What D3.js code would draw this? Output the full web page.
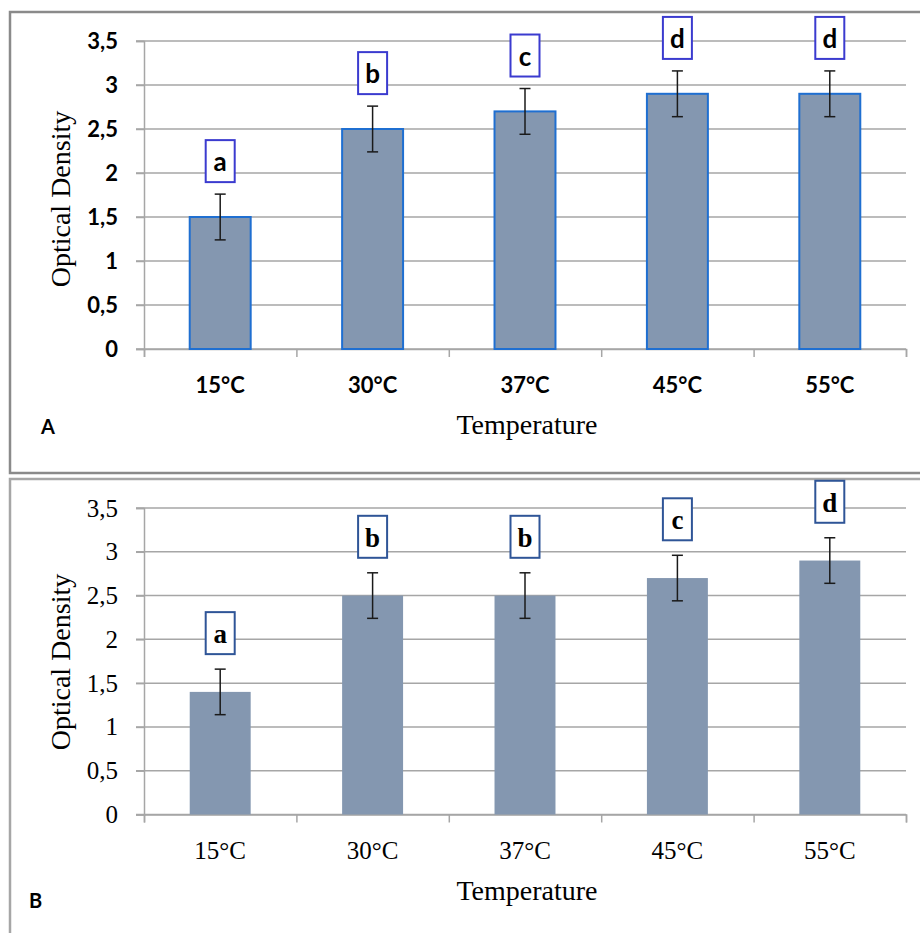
<!DOCTYPE html>
<html>
<head>
<meta charset="utf-8">
<script src="https://cdn.jsdelivr.net/npm/d3@7"></script>
<style>
  body { margin: 0; background: #fff; }
  svg { display: block; }
</style>
</head>
<body>
<svg id="chart" width="920" height="933"></svg>
<script>
var temps = ["15°C", "30°C", "37°C", "45°C", "55°C"];
var yTicks = [0, 0.5, 1, 1.5, 2, 2.5, 3, 3.5];
var yTickLabels = ["0", "0,5", "1", "1,5", "2", "2,5", "3", "3,5"];

var densityA = [1.5, 2.5, 2.7, 2.9, 2.9];
var errorA = [0.26, 0.26, 0.26, 0.26, 0.26];
var lettersA = ["a", "b", "c", "d", "d"];

var densityB = [1.4, 2.5, 2.5, 2.7, 2.9];
var errorB = [0.26, 0.26, 0.26, 0.26, 0.26];
var lettersB = ["a", "b", "b", "c", "d"];

var svg = d3.select("#chart");

var serif = "'Liberation Serif', 'DejaVu Serif', serif";
var sans = "Lato, 'Open Sans', sans-serif";

var x = d3.scaleBand()
    .domain(temps)
    .range([144, 906])
    .paddingInner(0.6)
    .paddingOuter(0.3);

var xTicks = d3.scaleLinear().domain([0, temps.length]).range([144, 906]);

function drawPanel(p)
{
    var g = svg.append("g");

    // panel frame
    g.append("rect")
        .attr("x", 10).attr("y", p.frameTop)
        .attr("width", 940).attr("height", p.frameHeight)
        .attr("fill", "none")
        .attr("stroke", p.frameColor)
        .attr("stroke-width", 2.5);

    var y = d3.scaleLinear().domain([0, 3.5]).range(p.yRange);

    // gridlines
    g.append("g").selectAll("line")
        .data(yTicks)
        .enter().append("line")
        .attr("x1", 136).attr("x2", 906)
        .attr("y1", function(d) { return y(d); })
        .attr("y2", function(d) { return y(d); })
        .attr("stroke", "#a6a6a6")
        .attr("stroke-width", 1.5);

    // y axis
    var yAxis = g.append("g")
        .attr("transform", "translate(144,0)")
        .call(d3.axisLeft(y)
            .tickValues(yTicks)
            .tickSize(8)
            .tickPadding(18)
            .tickFormat(function(d, i) { return yTickLabels[i]; }));
    yAxis.select(".domain").attr("stroke", "#a6a6a6").attr("stroke-width", 1.5);
    yAxis.selectAll(".tick line").attr("stroke", "#a6a6a6").attr("stroke-width", 1.5);
    yAxis.selectAll(".tick text")
        .attr("fill", "#000")
        .style("font-family", p.tickFont)
        .style("font-weight", p.tickWeight)
        .style("font-size", p.tickSize + "px");

    // x axis tick marks at category boundaries
    var xAxisTicks = g.append("g")
        .attr("transform", "translate(0," + y(0) + ")")
        .call(d3.axisBottom(xTicks).ticks(temps.length).tickSize(8).tickFormat(""));
    xAxisTicks.select(".domain").attr("stroke", "#a6a6a6").attr("stroke-width", 1.5);
    xAxisTicks.selectAll(".tick line").attr("stroke", "#a6a6a6").attr("stroke-width", 1.5);

    // bars
    g.append("g").selectAll("rect")
        .data(p.values)
        .enter().append("rect")
        .attr("x", function(d, i) { return x(temps[i]); })
        .attr("y", function(d) { return y(d); })
        .attr("width", x.bandwidth())
        .attr("height", function(d) { return y(0) - y(d); })
        .attr("fill", "#8497b0")
        .attr("stroke", p.barStroke)
        .attr("stroke-width", p.barStroke === "none" ? 0 : 2);

    // error bars
    var err = g.append("g").selectAll("g")
        .data(p.values)
        .enter().append("g")
        .attr("stroke", "#1a1a1a")
        .attr("stroke-width", 1.5);
    err.append("line")
        .attr("x1", function(d, i) { return x(temps[i]) + x.bandwidth() / 2; })
        .attr("x2", function(d, i) { return x(temps[i]) + x.bandwidth() / 2; })
        .attr("y1", function(d, i) { return y(d + p.errors[i]); })
        .attr("y2", function(d, i) { return y(d - p.errors[i]); });
    [1, -1].forEach(function(s) {
        err.append("line")
            .attr("x1", function(d, i) { return x(temps[i]) + x.bandwidth() / 2 - 5.5; })
            .attr("x2", function(d, i) { return x(temps[i]) + x.bandwidth() / 2 + 5.5; })
            .attr("y1", function(d, i) { return y(d + s * p.errors[i]); })
            .attr("y2", function(d, i) { return y(d + s * p.errors[i]); });
    });

    // significance letters in boxes
    var lab = g.append("g").selectAll("g")
        .data(p.values)
        .enter().append("g")
        .attr("transform", function(d, i) {
            var cx = x(temps[i]) + x.bandwidth() / 2;
            var bottom = y(d + p.errors[i]) - p.letterGap;
            return "translate(" + cx + "," + bottom + ")";
        });
    lab.append("rect")
        .attr("x", -14.5).attr("y", -42)
        .attr("width", 29).attr("height", 42)
        .attr("fill", "#fff")
        .attr("stroke", p.boxColor)
        .attr("stroke-width", 2);
    lab.append("text")
        .attr("y", -11)
        .attr("text-anchor", "middle")
        .style("font-family", p.letterFont)
        .style("font-weight", "bold")
        .style("font-size", p.letterSize + "px")
        .text(function(d, i) { return p.letters[i]; });

    // category labels
    g.append("g").selectAll("text")
        .data(temps)
        .enter().append("text")
        .attr("x", function(d) { return x(d) + x.bandwidth() / 2; })
        .attr("y", p.catBaseline)
        .attr("text-anchor", "middle")
        .style("font-family", p.tickFont)
        .style("font-weight", p.tickWeight)
        .style("font-size", p.catSize + "px")
        .text(function(d) { return d; });

    // axis titles
    g.append("text")
        .attr("x", 527).attr("y", p.titleBaseline)
        .attr("text-anchor", "middle")
        .style("font-family", serif)
        .style("font-size", "28px")
        .text("Temperature");

    g.append("text")
        .attr("transform", "translate(70," + p.yTitleCenter + ") rotate(-90)")
        .attr("text-anchor", "middle")
        .style("font-family", serif)
        .style("font-size", "28px")
        .text("Optical Density");

    // panel letter
    g.append("text")
        .attr("x", p.panelX).attr("y", p.panelY)
        .style("font-family", sans)
        .style("font-weight", "bold")
        .style("font-size", "20px")
        .text(p.panel);
}

drawPanel({
    panel: "A", panelX: 41, panelY: 434,
    frameTop: 12, frameHeight: 461, frameColor: "#8a8a8a",
    yRange: [349, 41],
    values: densityA, errors: errorA, letters: lettersA,
    barStroke: "#1f6fd1",
    boxColor: "#3b3bcf", letterGap: 12, letterFont: sans, letterSize: 26,
    tickFont: sans, tickWeight: "bold", tickSize: 22, catSize: 22,
    catBaseline: 393, titleBaseline: 434, yTitleCenter: 199
});

drawPanel({
    panel: "B", panelX: 29, panelY: 908,
    frameTop: 479, frameHeight: 480, frameColor: "#a6a6a6",
    yRange: [814.5, 508],
    values: densityB, errors: errorB, letters: lettersB,
    barStroke: "none",
    boxColor: "#2f5597", letterGap: 15, letterFont: serif, letterSize: 27,
    tickFont: serif, tickWeight: "normal", tickSize: 25, catSize: 25,
    catBaseline: 859, titleBaseline: 900, yTitleCenter: 662
});
</script>
</body>
</html>
